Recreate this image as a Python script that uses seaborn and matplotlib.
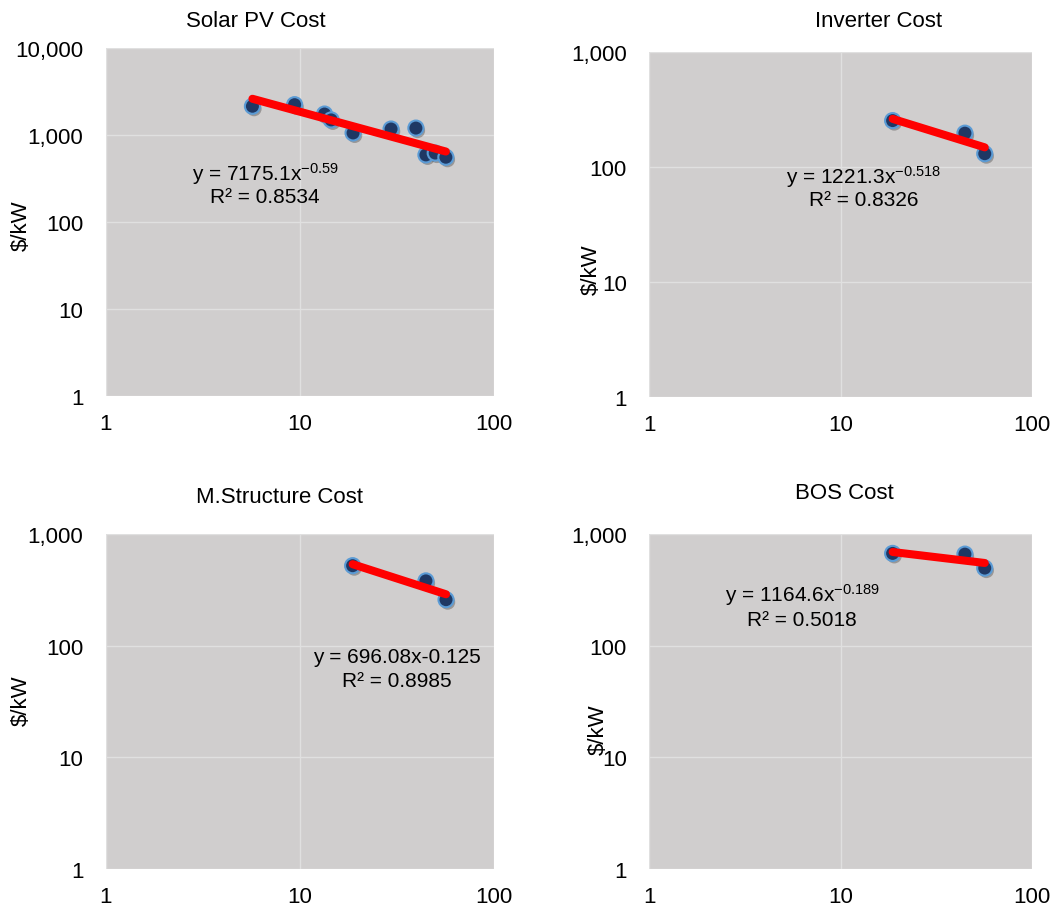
import numpy as np
import pandas as pd
import seaborn as sns
import matplotlib.pyplot as plt
import matplotlib.patheffects as pe
from matplotlib.ticker import FuncFormatter, LogLocator, NullLocator

# data (system size vs cost in $/kW)
pv_size = [5.7, 9.4, 13.4, 14.5, 18.8, 29.5, 39.6, 44.6, 49.8, 56.5]
pv_cost = [2140, 2230, 1740, 1490, 1055, 1170, 1200, 590, 620, 555]

sys_size = [18.7, 44.6, 56.6]
inverter_cost = [252, 196, 130]
structure_cost = [520, 380, 258]
bos_cost = [670, 660, 495]

titles = ["Solar PV Cost", "Inverter Cost", "M.Structure Cost", "BOS Cost"]
equations = ["y = 7175.1x$^{-0.59}$", "y = 1221.3x$^{-0.518}$",
             "y = 696.08x-0.125", "y = 1164.6x$^{-0.189}$"]
r2_labels = ["R² = 0.8534", "R² = 0.8326", "R² = 0.8985", "R² = 0.5018"]

sns.set_theme(style="white")
plt.rcParams["font.family"] = ["Liberation Sans", "DejaVu Sans"]
plt.rcParams["mathtext.fontset"] = "custom"
plt.rcParams["mathtext.rm"] = "Liberation Sans"
plt.rcParams["mathtext.default"] = "regular"
plt.rcParams["text.color"] = "black"

fig = plt.figure(figsize=(10.64, 9.12), dpi=100)

# axes boxes [left, bottom, width, height] in figure fraction
boxes = [
    [0.0993, 0.5647, 0.3650, 0.3816],
    [0.6100, 0.5636, 0.3600, 0.3786],
    [0.0993, 0.0461, 0.3650, 0.3673],
    [0.6100, 0.0461, 0.3600, 0.3673],
]
panels = [
    (pv_size, pv_cost, 10000),
    (sys_size, inverter_cost, 1000),
    (sys_size, structure_cost, 1000),
    (sys_size, bos_cost, 1000),
]
# equation label spots (axes fraction, centre)
eq_pos = [(0.41, 0.64, 0.572), (0.561, 0.64, 0.572),
          (0.75, 0.633, 0.564), (0.40, 0.82, 0.746)]
title_pos = [(0.240, 0.976), (0.826, 0.976), (0.263, 0.455), (0.794, 0.459)]
ylab_pos = [(0.020, 0.752), (0.556, 0.704), (0.020, 0.232), (0.562, 0.200)]

shadow = [pe.SimplePatchShadow(offset=(1.2, -1.8), alpha=0.3, shadow_rgbFace="k"), pe.Normal()]

for i, (xs, ys, ytop) in enumerate(panels):
    ax = fig.add_axes(boxes[i])
    ax.set_facecolor("#D0CECE")
    ax.set_xscale("log")
    ax.set_yscale("log")
    ax.set_xlim(1, 100)
    ax.set_ylim(1, ytop)

    df = pd.DataFrame({"size": xs, "cost": ys})
    # power trendline fitted in log space
    b, a = np.polyfit(np.log10(df["size"]), np.log10(df["cost"]), 1)
    fit = pd.DataFrame({"size": [min(xs), max(xs)]})
    fit["cost"] = 10 ** a * fit["size"] ** b

    sns.scatterplot(data=df, x="size", y="cost", ax=ax, s=118,
                    color="#1F3864", edgecolor="#5B9BD5", linewidth=1.5,
                    zorder=3)
    for coll in ax.collections:
        coll.set_path_effects(shadow)
    sns.lineplot(data=fit, x="size", y="cost", ax=ax, color="#FF0000",
                 linewidth=5.8, zorder=4, solid_capstyle="round")

    ax.xaxis.set_major_locator(LogLocator(base=10, numticks=5))
    ax.yaxis.set_major_locator(LogLocator(base=10, numticks=6))
    ax.xaxis.set_minor_locator(NullLocator())
    ax.yaxis.set_minor_locator(NullLocator())
    ax.xaxis.set_major_formatter(FuncFormatter(lambda v, p: f"{v:,.0f}"))
    ax.yaxis.set_major_formatter(FuncFormatter(lambda v, p: f"{v:,.0f}"))
    ax.tick_params(axis="both", labelsize=16, length=0, colors="#000000")
    ax.tick_params(axis="x", pad=12)
    ax.tick_params(axis="y", pad=16)
    ax.grid(True, which="major", color="#E0E0E0", linewidth=1.0)
    ax.set_axisbelow(True)
    for s in ax.spines.values():
        s.set_visible(False)
    ax.set_xlabel("")
    ax.set_ylabel("")

    ex, ey1, ey2 = eq_pos[i]
    ax.text(ex, ey1, equations[i], transform=ax.transAxes, ha="center",
            va="center", fontsize=15, color="black")
    ax.text(ex, ey2, r2_labels[i], transform=ax.transAxes, ha="center",
            va="center", fontsize=15, color="black")

    tx, ty = title_pos[i]
    fig.text(tx, ty, titles[i], ha="center", va="center", fontsize=16,
             color="black")
    lx, ly = ylab_pos[i]
    fig.text(lx, ly, "$/kW", ha="center", va="center", rotation=90,
             fontsize=16, color="black")

fig.savefig("out.png", dpi=100, facecolor="white")
